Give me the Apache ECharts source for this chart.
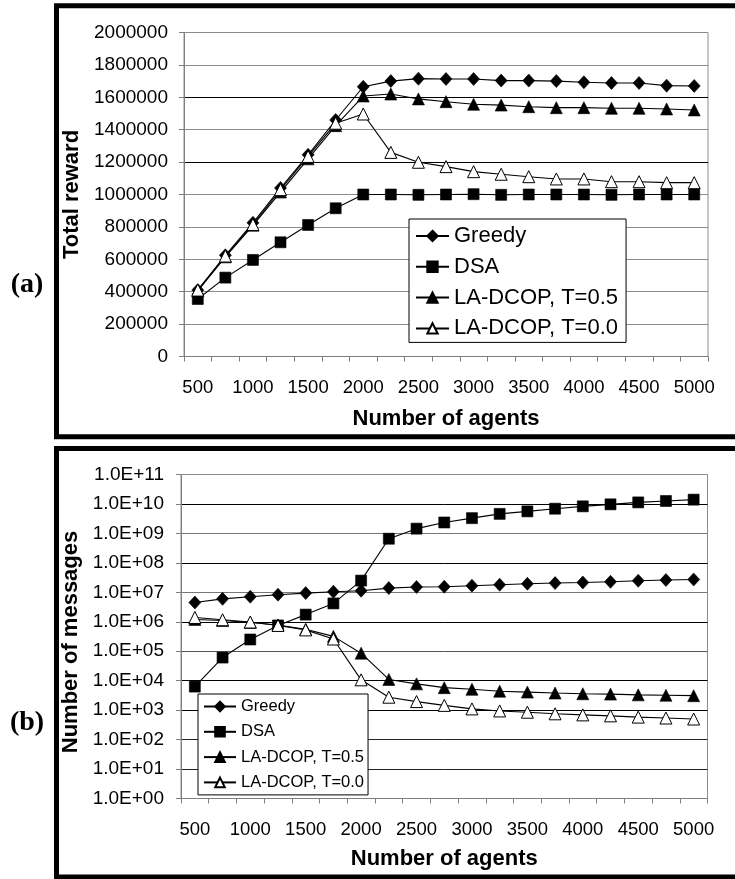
<!DOCTYPE html>
<html>
<head>
<meta charset="utf-8">
<script src="https://cdn.jsdelivr.net/npm/echarts@6/dist/echarts.min.js"></script>
<style>
  html, body { margin: 0; padding: 0; background: #fff; }
  #chart { width: 735px; height: 879px; }
</style>
</head>
<body>
<div id="chart"></div>
<script>
// ---- Data ----
var categories = ['500','750','1000','1250','1500','1750','2000','2250','2500','2750',
                  '3000','3250','3500','3750','4000','4250','4500','4750','5000'];
var seriesNames = ['Greedy', 'DSA', 'LA-DCOP, T=0.5', 'LA-DCOP, T=0.0'];

// (a) Total reward
var greedyReward = [410000, 625000, 825000, 1040000, 1245000, 1460000, 1665000, 1700000, 1715000, 1713000,
                    1713000, 1703000, 1703000, 1700000, 1693000, 1688000, 1688000, 1672000, 1670000];
var dsaReward    = [355000, 487000, 596000, 705000, 812000, 915000, 1000000, 1000000, 998000, 1000000,
                    1002000, 998000, 1000000, 1000000, 1000000, 998000, 1000000, 1000000, 1000000];
var la05Reward   = [405000, 615000, 810000, 1015000, 1220000, 1425000, 1608000, 1620000, 1590000, 1573000,
                    1557000, 1552000, 1542000, 1536000, 1536000, 1532000, 1532000, 1528000, 1522000];
var la00Reward   = [410000, 620000, 815000, 1030000, 1235000, 1440000, 1497000, 1260000, 1199000, 1172000,
                    1141000, 1125000, 1110000, 1096000, 1096000, 1079000, 1079000, 1073000, 1073000];

// (b) Number of messages
var greedyMsgs = [4.5e6, 6.0e6, 7.1e6, 8.3e6, 9.4e6, 1.05e7, 1.13e7, 1.39e7, 1.51e7, 1.55e7,
                  1.67e7, 1.81e7, 1.95e7, 2.06e7, 2.16e7, 2.28e7, 2.47e7, 2.61e7, 2.73e7];
var dsaMsgs    = [6.3e3, 6.1e4, 2.5e5, 7.5e5, 1.75e6, 4.2e6, 2.5e7, 6.6e8, 1.45e9, 2.35e9,
                  3.3e9, 4.6e9, 5.6e9, 6.9e9, 8.3e9, 9.7e9, 1.13e10, 1.26e10, 1.4e10];
var la05Msgs   = [1.2e6, 1.1e6, 9.5e5, 7.8e5, 5.6e5, 3.2e5, 8.6e4, 1.1e4, 7.8e3, 5.8e3,
                  5.1e3, 4.4e3, 4.1e3, 3.8e3, 3.6e3, 3.5e3, 3.3e3, 3.2e3, 3.1e3];
var la00Msgs   = [1.4e6, 1.17e6, 9.8e5, 7.5e5, 5.3e5, 2.6e5, 1.07e4, 2.75e3, 1.95e3, 1.45e3,
                  1.1e3, 9.4e2, 8.5e2, 7.5e2, 6.9e2, 6.4e2, 5.8e2, 5.4e2, 5.0e2];

// ---- Styles ----
var FONT = "'Liberation Sans', Arial, sans-serif";
var AXIS_GRAY = '#7f7f7f';

function makeSeries(name, data, idx, symbol, size, fill) {
  return {
    name: name, type: 'line', data: data,
    xAxisIndex: idx, yAxisIndex: idx,
    symbol: symbol, symbolSize: size, showAllSymbol: true,
    lineStyle: { color: '#000', width: 1.1 },
    itemStyle: { color: fill, borderColor: '#000', borderWidth: fill === '#fff' ? 1 : 0.6 },
    emphasis: { disabled: true },
    animation: false
  };
}

function xAxisFor(idx) {
  return {
    type: 'category', gridIndex: idx, data: categories, boundaryGap: true,
    axisLine: { show: true, lineStyle: { color: AXIS_GRAY, width: 1 } },
    axisTick: { show: true, interval: 0, length: 5, lineStyle: { color: AXIS_GRAY } },
    axisLabel: { interval: 1, margin: 22, color: '#000', fontFamily: FONT, fontSize: 18.5 },
    name: 'Number of agents', nameLocation: 'middle', nameGap: idx === 0 ? 51 : 49,
    nameTextStyle: { color: '#000', fontFamily: FONT, fontSize: 22, fontWeight: 'bold' },
    splitLine: { show: false }
  };
}

var chart = echarts.init(document.getElementById('chart'), null, { renderer: 'canvas' });

var option = {
  animation: false,
  backgroundColor: '#fff',
  grid: [
    { left: 184, right: 27, top: 32.5, height: 324, show: true, borderColor: '#8c8c8c', borderWidth: 1, backgroundColor: 'transparent' },
    { left: 181, right: 27.5, top: 474.5, height: 324, show: true, borderColor: '#8c8c8c', borderWidth: 1, backgroundColor: 'transparent' }
  ],
  xAxis: [ xAxisFor(0), xAxisFor(1) ],
  yAxis: [
    {
      type: 'value', gridIndex: 0, min: 0, max: 2000000, interval: 200000,
      axisLine: { show: true, lineStyle: { color: AXIS_GRAY } },
      axisTick: { show: true, length: 5, lineStyle: { color: AXIS_GRAY } },
      axisLabel: { margin: 16, color: '#000', fontFamily: FONT, fontSize: 19,
                   formatter: function (v) { return String(v); } },
      splitLine: { show: true, lineStyle: { width: 1,
        color: ['#8c8c8c','#8c8c8c','#8c8c8c','#8c8c8c','#8c8c8c','#8c8c8c','#000','#8c8c8c','#000','#8c8c8c','#8c8c8c'] } },
      name: 'Total reward', nameLocation: 'middle', nameGap: 92,
      nameTextStyle: { color: '#000', fontFamily: FONT, fontSize: 22, fontWeight: 'bold' }
    },
    {
      type: 'log', gridIndex: 1, logBase: 10, min: 1, max: 1e11, interval: 1, splitNumber: 11,
      axisLine: { show: true, lineStyle: { color: AXIS_GRAY } },
      axisTick: { show: true, length: 5, lineStyle: { color: AXIS_GRAY } },
      axisLabel: { margin: 17, color: '#000', fontFamily: FONT, fontSize: 19,
                   formatter: function (v) {
                     var e = Math.round(Math.log(v) / Math.LN10);
                     return '1.0E+' + (e < 10 ? '0' + e : '' + e);
                   } },
      splitLine: { show: true, lineStyle: { width: 1,
        color: ['#8c8c8c','#222','#222','#000','#000','#555','#000','#777','#000','#777','#000','#8c8c8c'] } },
      name: 'Number of messages', nameLocation: 'middle', nameGap: 89,
      nameTextStyle: { color: '#000', fontFamily: FONT, fontSize: 22, fontWeight: 'bold', padding: [0, 11, 0, 0] }
    }
  ],
  legend: [
    {
      data: seriesNames, orient: 'vertical', left: 409, top: 219,
      itemWidth: 33, itemHeight: 13, itemGap: 8.8,
      padding: [6, 8, 3, 6],
      backgroundColor: '#fff', borderColor: '#000', borderWidth: 1, borderRadius: 0,
      textStyle: { color: '#000', fontFamily: FONT, fontSize: 22 },
      selectedMode: false
    },
    {
      data: seriesNames, orient: 'vertical', left: 198, top: 694,
      itemWidth: 32, itemHeight: 12, itemGap: 8.3,
      padding: [4, 4, 4, 5],
      backgroundColor: '#fff', borderColor: '#000', borderWidth: 1, borderRadius: 0,
      textStyle: { color: '#000', fontFamily: FONT, fontSize: 16.5 },
      selectedMode: false
    }
  ],
  graphic: [
    { type: 'rect', z: 100, shape: { x: 56.5, y: 5.8, width: 720, height: 431 },
      style: { fill: 'none', stroke: '#000', lineWidth: 5 } },
    { type: 'rect', z: 100, shape: { x: 56.5, y: 448.5, width: 720, height: 428.5 },
      style: { fill: 'none', stroke: '#000', lineWidth: 5 } },
    { type: 'text', z: 100, x: 27, y: 285,
      style: { text: '(a)', fill: '#000', font: "bold 28px 'Liberation Serif', 'Times New Roman', serif",
               textAlign: 'center', textVerticalAlign: 'middle' } },
    { type: 'text', z: 100, x: 27, y: 723,
      style: { text: '(b)', fill: '#000', font: "bold 28px 'Liberation Serif', 'Times New Roman', serif",
               textAlign: 'center', textVerticalAlign: 'middle' } }
  ],
  series: [
    makeSeries(seriesNames[0], greedyReward, 0, 'diamond', [12, 13], '#000'),
    makeSeries(seriesNames[1], dsaReward, 0, 'rect', 11, '#000'),
    makeSeries(seriesNames[2], la05Reward, 0, 'triangle', 12, '#000'),
    makeSeries(seriesNames[3], la00Reward, 0, 'triangle', 12, '#fff'),
    makeSeries(seriesNames[0], greedyMsgs, 1, 'diamond', [12, 13], '#000'),
    makeSeries(seriesNames[1], dsaMsgs, 1, 'rect', 11, '#000'),
    makeSeries(seriesNames[2], la05Msgs, 1, 'triangle', 12, '#000'),
    makeSeries(seriesNames[3], la00Msgs, 1, 'triangle', 12, '#fff')
  ]
};

chart.setOption(option);
</script>
</body>
</html>
